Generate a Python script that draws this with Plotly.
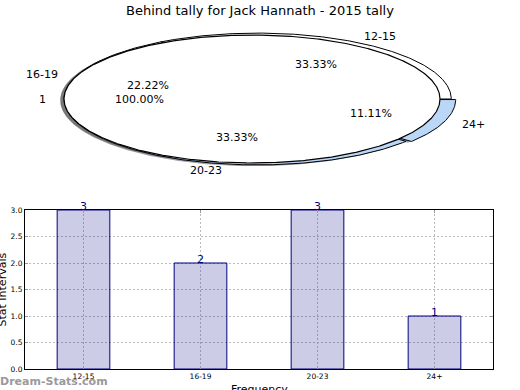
import numpy as np
import plotly.graph_objects as go

# ---------------- data ----------------
title_text = "Behind tally for Jack Hannath - 2015 tally"
categories = ["12-15", "16-19", "20-23", "24+"]
counts = [3, 2, 3, 1]
explode = [0.0, 0.0, 0.0, 0.025]
pie_colors = ["#ffffff", "#ffffff", "#bad7f8", "#bad7f8"]
total_labels = ["1"]
total_values = [1]
y_ticks = [0.0, 0.5, 1.0, 1.5, 2.0, 2.5, 3.0]
x_title = "Frequency"
y_title = "Stat Intervals"
watermark = "Dream-Stats.com"

FONT = "DejaVu Sans"
W, H = 520, 390

fig = go.Figure()

# ---------------- pie geometry helpers (matplotlib-like pie) ----------------
A_dx, A_r = 0.03, 1.03   # first pie (tally split)
B_dx, B_r = 0.0, 1.0     # second pie (single total)
SH = (-0.02, -0.02)      # shadow offset


def wedge(cx, cy, r, t1, t2):
    n = max(int(abs(t2 - t1)) * 2, 8)
    t = np.radians(np.linspace(t1, t2, n))
    xs = cx + r * np.cos(t)
    ys = cy + r * np.sin(t)
    if abs(t2 - t1) >= 359.999:
        return list(xs), list(ys)
    return [cx] + list(xs) + [cx], [cy] + list(ys) + [cy]


def shade(col):
    c = col.lstrip("#")
    r, g, b = (int(c[i:i + 2], 16) for i in (0, 2, 4))
    return f"rgba({int(r*0.3)},{int(g*0.3)},{int(b*0.3)},0.5)"


def pie_parts(values, colors, expl, dx, r):
    tot = float(sum(values))
    parts = []
    th = 0.0
    for v, c, e in zip(values, colors, expl):
        t1, t2 = th, th + 360.0 * v / tot
        tm = np.radians(0.5 * (t1 + t2))
        cx = dx + e * np.cos(tm)
        cy = e * np.sin(tm)
        parts.append(dict(t1=t1, t2=t2, tm=tm, cx=cx, cy=cy, color=c,
                          pct=100.0 * v / tot))
        th = t2
    return parts


partsA = pie_parts(counts, pie_colors, explode, A_dx, A_r)
partsB = pie_parts(total_values, ["#ffffff"], [0.0], B_dx, B_r)

pie_ax = dict(xaxis="x2", yaxis="y2", hoverinfo="skip", showlegend=False,
              mode="lines", fill="toself")

# shadows first (lower zorder)
for p in partsA:
    xs, ys = wedge(p["cx"] + SH[0], p["cy"] + SH[1], A_r, p["t1"], p["t2"])
    fig.add_trace(go.Scatter(x=xs, y=ys, fillcolor=shade(p["color"]),
                             line=dict(width=0, color="rgba(0,0,0,0)"), **pie_ax))
for p in partsB:
    xs, ys = wedge(p["cx"] + SH[0], p["cy"] + SH[1], B_r, p["t1"], p["t2"])
    fig.add_trace(go.Scatter(x=xs, y=ys, fillcolor=shade(p["color"]),
                             line=dict(width=0, color="rgba(0,0,0,0)"), **pie_ax))
# wedges
for p in partsA:
    xs, ys = wedge(p["cx"], p["cy"], A_r, p["t1"], p["t2"])
    fig.add_trace(go.Scatter(x=xs, y=ys, fillcolor=p["color"],
                             line=dict(width=1, color="black"), **pie_ax))
for p in partsB:
    xs, ys = wedge(p["cx"], p["cy"], B_r, p["t1"], p["t2"])
    fig.add_trace(go.Scatter(x=xs, y=ys, fillcolor=p["color"],
                             line=dict(width=1.2, color="black"), **pie_ax))

annotations = []


def pie_text(parts, labels, dx, r):
    for p, lab in zip(parts, labels):
        xt = p["cx"] + 1.1 * r * np.cos(p["tm"])
        yt = p["cy"] + 1.1 * r * np.sin(p["tm"])
        left = xt - dx > 0
        annotations.append(dict(x=xt, y=yt, xref="x2", yref="y2", text=lab,
                                showarrow=False,
                                xanchor="left" if left else "right",
                                xshift=-1 if left else 2,
                                yanchor="middle", borderpad=0,
                                font=dict(family=FONT, size=11, color="black")))
        xp = p["cx"] + 0.6 * r * np.cos(p["tm"])
        yp = p["cy"] + 0.6 * r * np.sin(p["tm"])
        annotations.append(dict(x=xp, y=yp, xref="x2", yref="y2",
                                text="%.2f%%" % p["pct"], showarrow=False,
                                xanchor="center", yanchor="middle", borderpad=0,
                                font=dict(family=FONT, size=11, color="black")))


pie_text(partsA, categories, A_dx, A_r)
pie_text(partsB, total_labels, B_dx, B_r)

# ---------------- bar chart ----------------
fig.add_trace(go.Bar(x=categories, y=counts, width=0.45,
                     marker=dict(color="rgba(0,0,128,0.2)",
                                 line=dict(color="#000080", width=1)),
                     hoverinfo="skip", showlegend=False))

for c, v in zip(categories, counts):
    annotations.append(dict(x=c, y=v, xref="x", yref="y", text=str(v),
                            showarrow=False, xanchor="center", yanchor="bottom",
                            yshift=-4, borderpad=0,
                            font=dict(family=FONT, size=11, color="#000080")))

# axis titles / watermark
annotations.append(dict(x=0, y=(390 - 289.5) / H, xref="paper", yref="paper",
                        text=y_title, textangle=-90, showarrow=False,
                        xanchor="center", yanchor="middle", xshift=2,
                        font=dict(family=FONT, size=11, color="black")))
annotations.append(dict(x=259 / W, y=0, xref="paper", yref="paper",
                        text=x_title, showarrow=False, xanchor="center",
                        yanchor="middle", yshift=1,
                        font=dict(family=FONT, size=11, color="black")))
annotations.append(dict(x=0, y=(390 - 381) / H, xref="paper", yref="paper",
                        text="<b>" + watermark + "</b>", showarrow=False,
                        xanchor="left", yanchor="middle", xshift=-2,
                        font=dict(family=FONT, size=11, color="#9a9a9a")))

# pixel -> data mapping for the pie panel
PX_X, PX_Y = 188.0, 64.0
CX, CY = 252.0, 99.0
pie_top, pie_bot = 20.0, 190.0

grid = dict(showgrid=True, gridcolor="#bcbcbc", griddash="2px,2px", gridwidth=1)

fig.update_layout(
    width=W, height=H,
    margin=dict(l=0, r=0, t=0, b=0, pad=0, autoexpand=False),
    paper_bgcolor="white", plot_bgcolor="white",
    font=dict(family=FONT, size=11, color="black"),
    title=dict(text=title_text, x=0.5, xanchor="center", y=1 - 10 / H,
               yanchor="middle", yref="container", automargin=False,
               font=dict(family=FONT, size=13, color="black")),
    annotations=annotations,
    xaxis=dict(domain=[25 / W, 493 / W], type="category", range=[-0.5, 3.5],
               showline=True, linecolor="black", linewidth=1, mirror="ticks",
               ticks="inside", ticklen=3, tickcolor="#999", automargin=False,
               tickfont=dict(family=FONT, size=7.5, color="black"),
               zeroline=False, fixedrange=True, anchor="y", **grid),
    yaxis=dict(domain=[21 / H, 180 / H], range=[0, 3], tickvals=y_ticks,
               ticktext=["%.1f" % t for t in y_ticks],
               showline=True, linecolor="black", linewidth=1, mirror="ticks",
               ticks="inside", ticklen=3, tickcolor="#999", automargin=False,
               tickfont=dict(family=FONT, size=7.5, color="black"),
               zeroline=False, fixedrange=True, anchor="x", **grid),
    xaxis2=dict(domain=[0, 1], range=[-CX / PX_X, (W - CX) / PX_X],
                visible=False, fixedrange=True, anchor="y2", automargin=False),
    yaxis2=dict(domain=[(H - pie_bot) / H, (H - pie_top) / H],
                range=[-(pie_bot - CY) / PX_Y, (CY - pie_top) / PX_Y],
                visible=False, fixedrange=True, anchor="x2", automargin=False),
)

fig.write_html("out.html", config={"displayModeBar": False},
               post_script="document.body.style.margin='0';"
                           "document.body.style.overflow='hidden';")
